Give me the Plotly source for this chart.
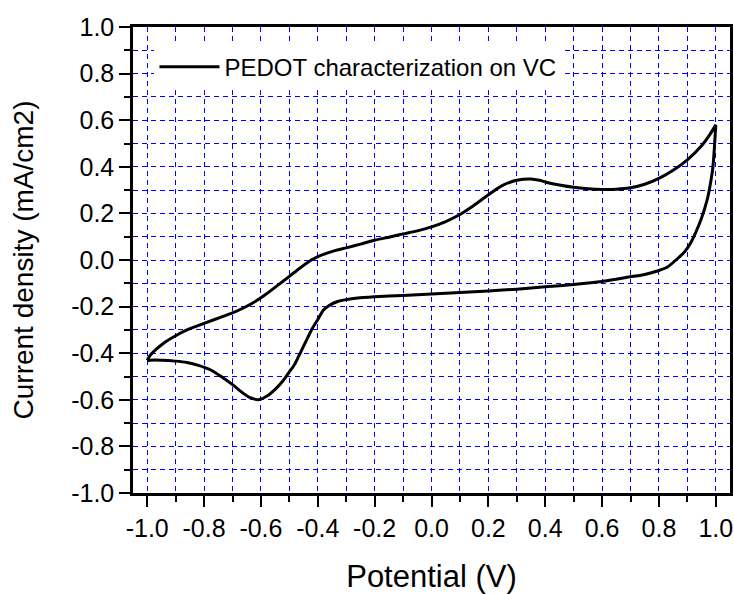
import plotly.graph_objects as go

# Cyclic voltammogram: forward (upper) branch then reverse (lower) branch
potential_up = [-1.00, -0.99, -0.97, -0.94, -0.90, -0.86, -0.80, -0.74, -0.70, -0.66,
                -0.62, -0.58, -0.54, -0.50, -0.46, -0.42, -0.38, -0.34, -0.30, -0.25,
                -0.20, -0.15, -0.10, -0.05, 0.00, 0.05, 0.10, 0.15, 0.20, 0.25,
                0.30, 0.35, 0.38, 0.40, 0.45, 0.50, 0.55, 0.60, 0.65, 0.70,
                0.75, 0.80, 0.85, 0.90, 0.95, 0.98, 1.00]
current_up = [-0.43, -0.41, -0.385, -0.355, -0.325, -0.30, -0.272, -0.245, -0.227, -0.205,
              -0.178, -0.145, -0.108, -0.07, -0.032, 0.002, 0.024, 0.04, 0.052, 0.068,
              0.085, 0.098, 0.112, 0.125, 0.142, 0.165, 0.195, 0.235, 0.28, 0.32,
              0.342, 0.348, 0.342, 0.335, 0.322, 0.312, 0.306, 0.303, 0.304, 0.31,
              0.325, 0.35, 0.385, 0.43, 0.49, 0.54, 0.58]

potential_down = [1.00, 0.995, 0.99, 0.98, 0.97, 0.95, 0.93, 0.91, 0.89, 0.86,
                  0.83, 0.80, 0.75, 0.70, 0.60, 0.50, 0.40, 0.30, 0.20, 0.10,
                  0.00, -0.10, -0.20, -0.26, -0.30, -0.33, -0.36, -0.38, -0.40, -0.42,
                  -0.44, -0.46, -0.48, -0.50, -0.52, -0.55, -0.58, -0.61, -0.64, -0.67,
                  -0.70, -0.74, -0.78, -0.82, -0.86, -0.90, -0.95, -0.99, -1.00]
current_down = [0.58, 0.48, 0.40, 0.32, 0.26, 0.18, 0.12, 0.07, 0.035, 0.00,
                -0.03, -0.045, -0.062, -0.072, -0.092, -0.105, -0.115, -0.125, -0.133, -0.14,
                -0.146, -0.152, -0.158, -0.163, -0.17, -0.178, -0.195, -0.215, -0.255, -0.295,
                -0.345, -0.395, -0.445, -0.48, -0.515, -0.555, -0.585, -0.60, -0.59, -0.565,
                -0.535, -0.50, -0.47, -0.452, -0.44, -0.434, -0.43, -0.43, -0.432]

x_tickvals = [-1.0, -0.8, -0.6, -0.4, -0.2, 0.0, 0.2, 0.4, 0.6, 0.8, 1.0]
x_ticktext = ["-1.0", "-0.8", "-0.6", "-0.4", "-0.2", "0.0", "0.2", "0.4", "0.6", "0.8", "1.0"]
y_tickvals = [-1.0, -0.8, -0.6, -0.4, -0.2, 0.0, 0.2, 0.4, 0.6, 0.8, 1.0]
y_ticktext = ["-1.0", "-0.8", "-0.6", "-0.4", "-0.2", "0.0", "0.2", "0.4", "0.6", "0.8", "1.0"]

series_name = "PEDOT characterization on VC"

FONT = "Liberation Sans, Arial, sans-serif"
GRID = "#0000ff"

fig = go.Figure()
fig.add_trace(go.Scatter(
    x=potential_up + potential_down,
    y=current_up + current_down,
    mode="lines",
    name=series_name,
    line=dict(color="black", width=3, shape="spline", smoothing=0.5),
))

axis_common = dict(
    showline=True, linecolor="black", linewidth=2.5, mirror=True,
    ticks="outside", ticklen=11, tickwidth=2.2, tickcolor="black",
    showgrid=True, gridcolor=GRID, gridwidth=1, griddash="5px,4px",
    zeroline=False,
    tickfont=dict(family=FONT, size=25, color="black"),
    minor=dict(tickmode="linear", dtick=0.1, tick0=-1.0, ticks="outside", ticklen=6,
               tickwidth=2, tickcolor="black", showgrid=True, gridcolor=GRID,
               gridwidth=1, griddash="5px,4px"),
)

fig.update_xaxes(
    range=[-1.05, 1.05], tickmode="array", tickvals=x_tickvals, ticktext=x_ticktext,
    title=dict(text="Potential (V)", font=dict(family=FONT, size=31, color="black"), standoff=27),
    automargin="height",
    **axis_common,
)
fig.update_yaxes(
    range=[-1.0, 1.0], tickmode="array", tickvals=y_tickvals, ticktext=y_ticktext,
    title=dict(text="Current density (mA/cm2)", font=dict(family=FONT, size=28, color="black"), standoff=30),
    automargin="width",
    **axis_common,
)

fig.update_layout(
    width=734, height=594,
    margin=dict(l=133, r=1, t=27, b=101),
    paper_bgcolor="white", plot_bgcolor="white",
    showlegend=True,
    legend=dict(x=0.036, y=0.914, xanchor="left", yanchor="middle",
                bgcolor="white", borderwidth=0, itemwidth=60,
                font=dict(family=FONT, size=24, color="black")),
)

# Remove the browser's default page margin so the figure fills the window exactly
fig.write_html(
    "out.html",
    config={"displayModeBar": False},
    post_script="document.body.style.margin='0';document.body.style.overflow='hidden';",
)
